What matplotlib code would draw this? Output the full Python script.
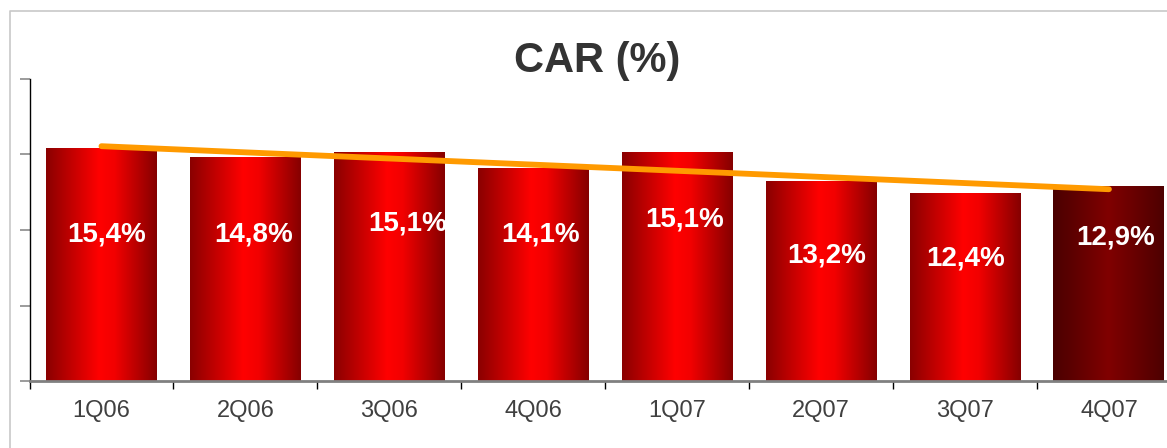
import numpy as np
import matplotlib
matplotlib.use("Agg")
import matplotlib.pyplot as plt
from matplotlib.colors import LinearSegmentedColormap
from matplotlib.lines import Line2D

plt.rcParams['font.family'] = ['Liberation Sans', 'DejaVu Sans']

quarters = ["1Q06", "2Q06", "3Q06", "4Q06", "1Q07", "2Q07", "3Q07", "4Q07"]
car = [15.4, 14.8, 15.1, 14.1, 15.1, 13.2, 12.4, 12.9]

# where each value label sits inside its bar (data y) and a small sideways nudge (px)
label_y = [9.67, 9.67, 10.4, 9.67, 10.7, 8.28, 8.08, 9.5]
label_dx = [5, 8, 18, 7, 7, 6, 1, 7]

red_cm = LinearSegmentedColormap.from_list(
    "bar_red", [(0.0, "#8a0000"), (0.22, "#c00000"), (0.48, "#ff0000"),
                (0.62, "#f20000"), (1.0, "#850000")])
dark_cm = LinearSegmentedColormap.from_list(
    "bar_dark", [(0.0, "#4a0000"), (0.5, "#800000"), (1.0, "#4e0000")])

fig = plt.figure(figsize=(11.67, 4.48), dpi=100)
ax = fig.add_axes([29.5 / 1167, 67 / 448, 1151.4 / 1167, 302 / 448])

x = np.arange(len(quarters))
bars = ax.bar(x, car, width=0.771, color="none", edgecolor="none", zorder=2)
grad = np.linspace(0, 1, 256).reshape(1, -1)
for i, b in enumerate(bars):
    cm = dark_cm if i == len(bars) - 1 else red_cm
    ax.imshow(grad, cmap=cm, aspect="auto", interpolation="bilinear",
              extent=[b.get_x(), b.get_x() + b.get_width(), 0, b.get_height()],
              zorder=2)

# linear trend of the series
k, c0 = np.polyfit(x, car, 1)
ax.plot(x, k * x + c0, color="#ff9a00", lw=4.2, solid_capstyle="round", zorder=4)

for i, v in enumerate(car):
    ax.annotate(f"{v:.1f}%".replace(".", ","), (x[i], label_y[i]),
                xytext=(label_dx[i], 0), textcoords="offset pixels",
                ha="center", va="center", color="white", fontsize=20,
                fontweight="bold", zorder=5)

ax.set_xlim(-0.5, len(quarters) - 0.5)
ax.set_ylim(0, 20)
ax.set_yticks([0, 5, 10, 15, 20])
ax.set_yticklabels([])
ax.tick_params(axis="y", direction="out", length=7.2, width=1.1, color="#808080")

ax.set_xticks(x)
ax.set_xticklabels(quarters, fontsize=17, color="#404040")
ax.set_xticks(np.arange(-0.5, len(quarters)), minor=True)
ax.tick_params(axis="x", which="major", length=0, pad=14)
ax.tick_params(axis="x", which="minor", direction="out", length=6, width=1, color="black")

for side in ("top", "right"):
    ax.spines[side].set_visible(False)
ax.spines["left"].set_color("black")
ax.spines["left"].set_linewidth(1)
ax.spines["bottom"].set_color("#808080")
ax.spines["bottom"].set_linewidth(2)
ax.spines["bottom"].set_zorder(3)

fig.text(597 / 1167, 1 - 61 / 448, "CAR (%)", ha="center", va="center",
         fontsize=30, fontweight="bold", color="#333333")

# light frame around the chart area
fig.add_artist(Line2D([9.5 / 1167, 9.5 / 1167, 1.0], [0.0, 1 - 10.7 / 448, 1 - 10.7 / 448],
                      color="#c8c8c8", lw=1.2, transform=fig.transFigure))

fig.savefig("out.png", dpi=100)
